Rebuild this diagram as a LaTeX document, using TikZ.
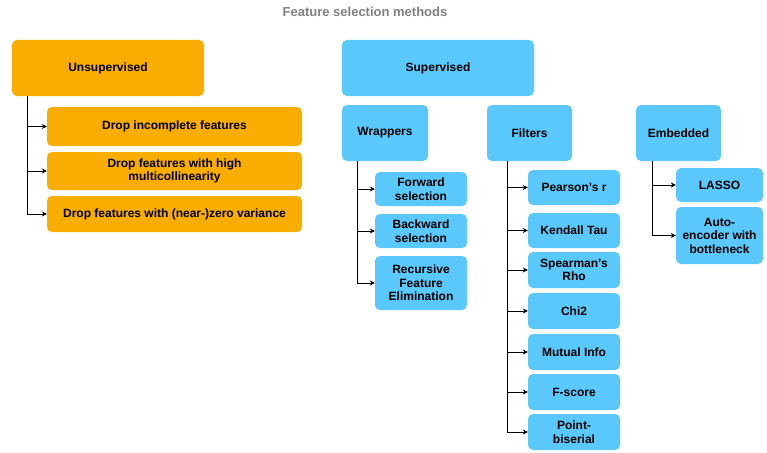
\documentclass[tikz,border=0pt]{standalone}
\usepackage{fontspec}
\setmainfont{Liberation Sans}
\usetikzlibrary{arrows.meta}
\definecolor{org}{HTML}{F9AD00}
\definecolor{blu}{HTML}{5AC8FA}
\begin{document}
\begin{tikzpicture}[x=1pt,y=-1pt,
  box/.style={draw=none,rounded corners=5pt,font=\fontsize{12}{13.5}\selectfont\bfseries,align=center,inner sep=0pt},
  ob/.style={box,fill=org},
  bb/.style={box,fill=blu},
  arr/.style={-{Stealth[length=5pt,width=5pt]},line width=1pt}]
\useasboundingbox (0,0) rectangle (767,452);
\node[font=\fontsize{13}{15}\selectfont\bfseries,text=gray] (t) at (365,12) {Feature selection methods};
\newcommand{\bx}[6]{\node[#1,minimum width=#4-#3,minimum height=#6-#5] (#2) at ({(#3+#4)/2},{(#5+#6)/2})}
\bx{ob}{u}{12}{204}{40}{96} {Unsupervised};
\bx{ob}{u1}{47}{302}{107}{146} {Drop incomplete features};
\bx{ob}{u2}{47}{302}{152}{190} {Drop features with high\\multicollinearity};
\bx{ob}{u3}{47}{302}{196}{232} {Drop features with (near-)zero variance};
\bx{bb}{s}{342}{534}{40}{96} {Supervised};
\bx{bb}{w}{342}{428}{105}{161} {Wrappers};
\bx{bb}{f}{487}{572}{105}{161} {Filters};
\bx{bb}{e}{636}{721}{105}{161} {Embedded};
\bx{bb}{w1}{375}{467}{172}{206} {Forward\\selection};
\bx{bb}{w2}{375}{467}{214}{248} {Backward\\selection};
\bx{bb}{w3}{375}{467}{256}{310} {Recursive\\Feature\\Elimination};
\bx{bb}{f1}{528}{620}{170}{205} {Pearson's r};
\bx{bb}{f2}{528}{620}{213}{248} {Kendall Tau};
\bx{bb}{f3}{528}{620}{252}{288} {Spearman's\\Rho};
\bx{bb}{f4}{528}{620}{293}{329} {Chi2};
\bx{bb}{f5}{528}{620}{334}{370} {Mutual Info};
\bx{bb}{f6}{528}{620}{374}{410} {F-score};
\bx{bb}{f7}{528}{620}{414}{450} {Point-\\biserial};
\bx{bb}{e1}{676}{763}{168}{202} {LASSO};
\bx{bb}{e2}{676}{763}{207}{264} {Auto-\\encoder with\\bottleneck};
\foreach \p/\x/\l in {u/27/{u1,u2,u3}, w/357/{w1,w2,w3}, f/507/{f1,f2,f3,f4,f5,f6,f7}, e/652/{e1,e2}}{
  \coordinate (\p top) at (\x,0 |- \p.south);
  \foreach \c [count=\i] in \l {
    \draw[arr] (\p top) |- (\c.west);
  }
}
\end{tikzpicture}
\end{document}
